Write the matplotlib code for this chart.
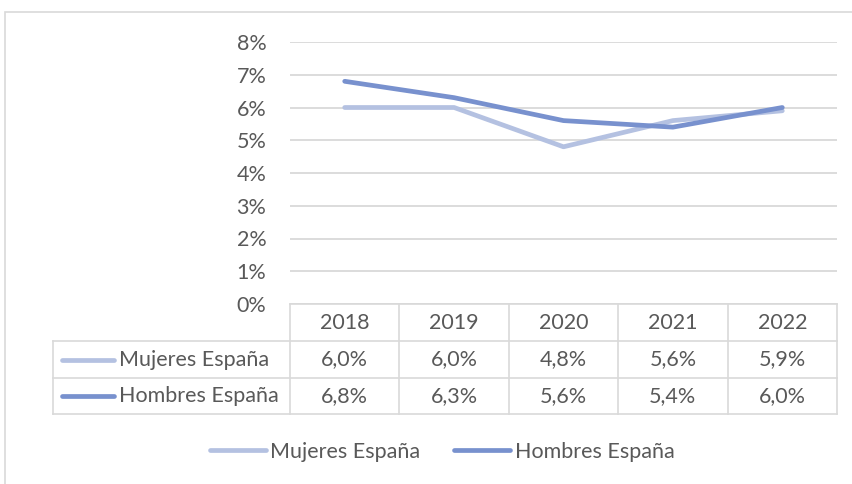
import matplotlib
matplotlib.use("Agg")
import matplotlib.pyplot as plt
from matplotlib.lines import Line2D
from matplotlib.patches import Rectangle
import matplotlib.transforms as mtransforms

years = ["2018", "2019", "2020", "2021", "2022"]
mujeres = [6.0, 6.0, 4.8, 5.6, 5.9]
hombres = [6.8, 6.3, 5.6, 5.4, 6.0]
series_names = ["Mujeres España", "Hombres España"]
y_ticks = [0, 1, 2, 3, 4, 5, 6, 7, 8]

c_muj = "#B4C1E1"
c_hom = "#7891CE"
grid_c = "#D9D9D9"
txt_c = "#595959"
FONT = "Lato"
FS = 15.5

W, H = 853, 484
fig = plt.figure(figsize=(W / 100, H / 100), dpi=100)

def fx(px):
    return px / W

def fy(py):
    return 1 - py / H

# outer frame
fig.patches.append(Rectangle((fx(5), fy(500)), 1.0, fy(12) - fy(500), transform=fig.transFigure,
                             fill=False, edgecolor=grid_c, lw=1.2))

ax = fig.add_axes([fx(290), fy(304), fx(837) - fx(290), fy(42) - fy(304)])
x = list(range(len(years)))
ax.plot(x, mujeres, color=c_muj, lw=3.4, solid_capstyle="round", solid_joinstyle="round")
ax.plot(x, hombres, color=c_hom, lw=3.4, solid_capstyle="round", solid_joinstyle="round")
ax.set_xlim(-0.5, len(years) - 0.5)
ax.set_ylim(0, 8)
ax.set_yticks(y_ticks)
ax.set_yticklabels([f"{t}%" for t in y_ticks], fontfamily=FONT, fontsize=FS, color=txt_c)
ax.tick_params(axis="y", length=0, pad=17)
ax.set_xticks([])
for s in ax.spines.values():
    s.set_visible(False)
ax.grid(axis="y", color=grid_c, lw=1.3)
ax.set_axisbelow(True)

# data table below the axes
tr = mtransforms.blended_transform_factory(ax.transData, fig.transFigure)
row_edges = [304, 341, 378, 414]
xmin, xmax = -0.5, len(years) - 0.5
for i in range(len(years) + 1):
    xv = xmin + i
    fig.add_artist(Line2D([xv, xv], [fy(304), fy(414)], transform=tr, color=grid_c, lw=1.2))
fig.add_artist(Line2D([xmin, xmax], [fy(304), fy(304)], transform=tr, color=grid_c, lw=1.2))
for ry in row_edges[1:]:
    fig.add_artist(Line2D([fx(53), fx(837)], [fy(ry), fy(ry)], transform=fig.transFigure,
                          color=grid_c, lw=1.2))
fig.add_artist(Line2D([fx(53), fx(53)], [fy(341), fy(414)], transform=fig.transFigure,
                      color=grid_c, lw=1.2))

# header row
for i, yr in enumerate(years):
    fig.text(i, fy(323), yr, transform=tr, ha="center", va="center",
             fontfamily=FONT, fontsize=FS, color=txt_c)
for row, (name, vals, col) in enumerate(zip(series_names, [mujeres, hombres], [c_muj, c_hom])):
    yc = fy((row_edges[row + 1] + row_edges[row + 2]) / 2)
    fig.add_artist(Line2D([fx(62), fx(114)], [yc, yc], transform=fig.transFigure,
                          color=col, lw=3.4, solid_capstyle="round"))
    fig.text(fx(119), yc, name, ha="left", va="center", fontfamily=FONT, fontsize=FS, color=txt_c)
    for i, v in enumerate(vals):
        fig.text(i, yc, f"{v:.1f}%".replace(".", ","), transform=tr, ha="center", va="center",
                 fontfamily=FONT, fontsize=FS, color=txt_c)

# legend
handles = [Line2D([], [], color=c_muj, lw=3.4, solid_capstyle="round"),
           Line2D([], [], color=c_hom, lw=3.4, solid_capstyle="round")]
fig.legend(handles, series_names, loc="center", bbox_to_anchor=(fx(442), fy(452)), ncol=2,
           frameon=False, prop={"family": FONT, "size": FS}, labelcolor=txt_c,
           handlelength=2.6, handletextpad=0.2, columnspacing=1.6)

fig.savefig("out.png", dpi=100)
